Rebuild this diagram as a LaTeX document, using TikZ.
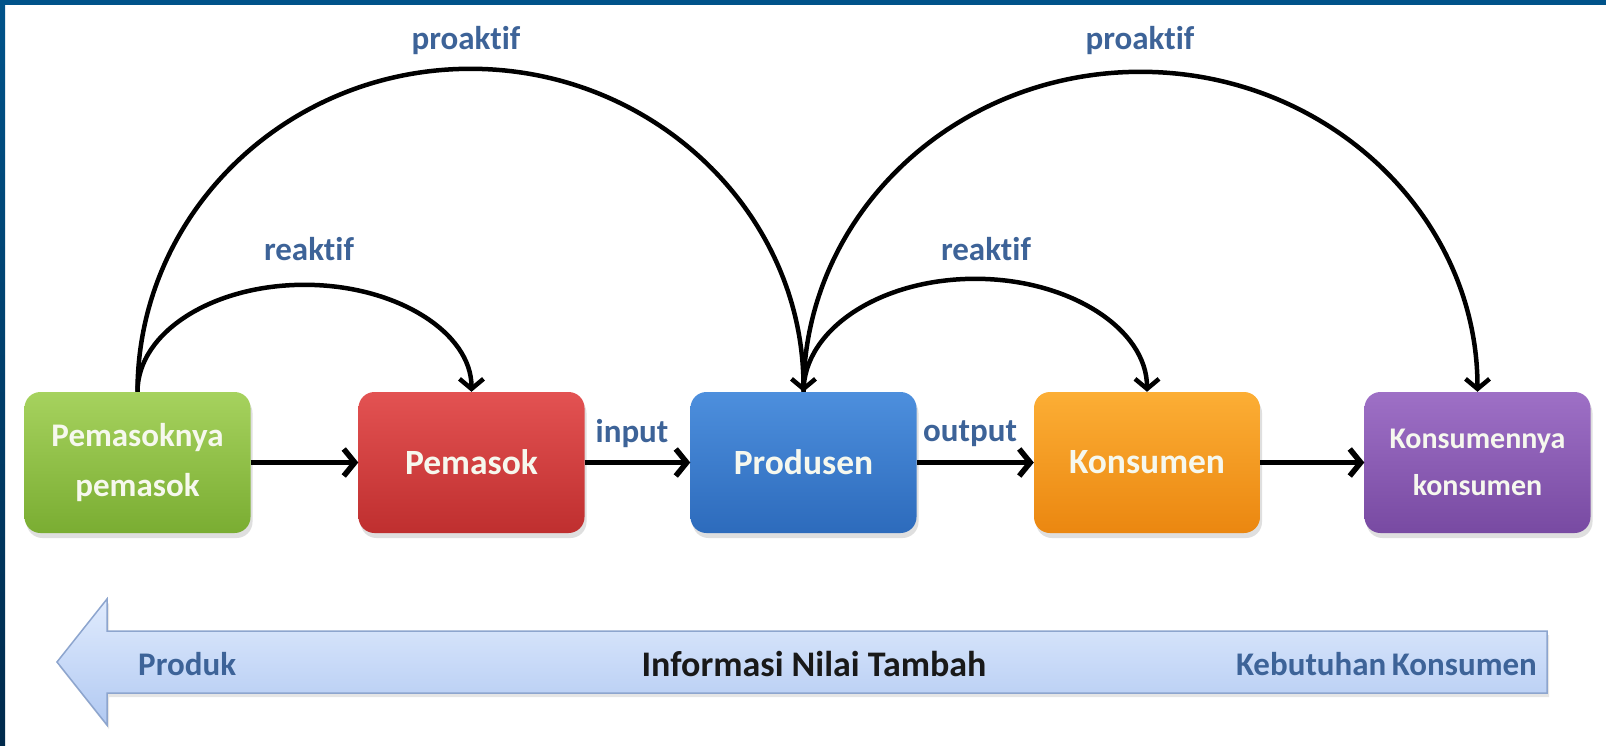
\documentclass[tikz,border=0pt]{standalone}
\usepackage{fontspec}
\setmainfont{Carlito}[Ligatures={NoCommon,NoDiscretionary}]
\usetikzlibrary{arrows.meta,shadows}
\definecolor{frameblue}{HTML}{00538A}
\definecolor{framedark}{HTML}{002A4C}
\definecolor{lblblue}{HTML}{3D6398}
\definecolor{boxtext}{HTML}{F6F8EE}
\definecolor{greenT}{HTML}{A6D25E}
\definecolor{greenB}{HTML}{7AAD32}
\definecolor{redT}{HTML}{E35252}
\definecolor{redB}{HTML}{BF2F2F}
\definecolor{blueT}{HTML}{4D8FDD}
\definecolor{blueB}{HTML}{2D6BBC}
\definecolor{orangeT}{HTML}{FCAE35}
\definecolor{orangeB}{HTML}{EB8710}
\definecolor{purpleT}{HTML}{9E70C6}
\definecolor{purpleB}{HTML}{784AA2}
\definecolor{arrowT}{HTML}{E0EBFD}
\definecolor{arrowB}{HTML}{B1C9F2}
\definecolor{arrowD}{HTML}{8DA5CE}
\begin{document}
\begin{tikzpicture}[x=1pt,y=-1pt,
  box/.style={rounded corners=16pt, minimum width=226pt, minimum height=141pt,
    inner sep=0pt, align=center, text=boxtext,
    font=\bfseries\fontsize{35.5}{48}\selectfont,
    drop shadow={shadow xshift=2pt, shadow yshift=-5pt, opacity=0.25}},
  lbl/.style={text=lblblue, font=\bfseries\fontsize{33}{38}\selectfont, inner sep=0pt},
  flow/.style={line width=5.5pt, -{Straight Barb[length=11pt,width=27pt]}},
  arcarrow/.style={line width=4.5pt, -{Straight Barb[length=10pt,width=24pt]}}
]
\useasboundingbox (0,0) rectangle (1606,746);
\fill[white] (0,0) rectangle (1606,746);
\fill[frameblue] (0,0) rectangle (1606,5);
\shade[top color=frameblue, bottom color=framedark] (0,0) rectangle (5,746);

% boxes
\node[box, top color=greenT, bottom color=greenB, font=\bfseries\fontsize{33}{50}\selectfont] (g) at (137.5,462.5) {Pemasoknya\\pemasok};
\node[box, top color=redT, bottom color=redB] (r) at (471.5,462.5) {Pemasok};
\node[box, top color=blueT, bottom color=blueB] (b) at (803.5,462.5) {Produsen};
\node[box, top color=orangeT, bottom color=orangeB] (o) at (1147,462.5) {Konsumen};
\node[box, top color=purpleT, bottom color=purpleB, font=\bfseries\fontsize{30}{47}\selectfont] (p) at (1477.5,462.5) {Konsumennya\\konsumen};

% horizontal arrows
\draw[flow] (g.east) -- (r.west);
\draw[flow] (r.east) -- (b.west);
\draw[flow] (b.east) -- (o.west);
\draw[flow] (o.east) -- (p.west);

\node[lbl] (lin) at (632,434) {input};
\node[lbl] (lout) at (970,434) {output};

% arcs
\draw[arcarrow] (g.north) arc[start angle=180, end angle=360, x radius=167, y radius=107];
\draw[arcarrow] (g.north) arc[start angle=180, end angle=360, x radius=333, y radius=323];
\draw[arcarrow] (b.north) arc[start angle=180, end angle=360, x radius=171.75, y radius=113];
\draw[arcarrow] (b.north) arc[start angle=180, end angle=360, x radius=337, y radius=320];

\node[lbl] (rk1) at (309,249) {reaktif};
\node[lbl] (rk2) at (986,249) {reaktif};
\node[lbl] (pk1) at (466,41) {proaktif};
\node[lbl] (pk2) at (1140,41) {proaktif};

% bottom arrow
\path[draw=arrowD, line width=1.5pt, top color=arrowT, bottom color=arrowB,
  drop shadow={shadow xshift=2pt, shadow yshift=-4pt, opacity=0.2}]
  (57,662) -- (107,599) -- (107,631) -- (1547,631) -- (1547,693) -- (107,693) -- (107,725) -- cycle;
\node[lbl, anchor=west] (prod) at (138,664) {Produk};
\node[lbl, text=black!90, font=\bfseries\fontsize{36}{40}\selectfont] (info) at (814,664) {Informasi Nilai Tambah};
\node[lbl, anchor=east] (keb) at (1537,664) {Kebutuhan\hspace{-2pt} Konsumen};
\end{tikzpicture}
\end{document}
